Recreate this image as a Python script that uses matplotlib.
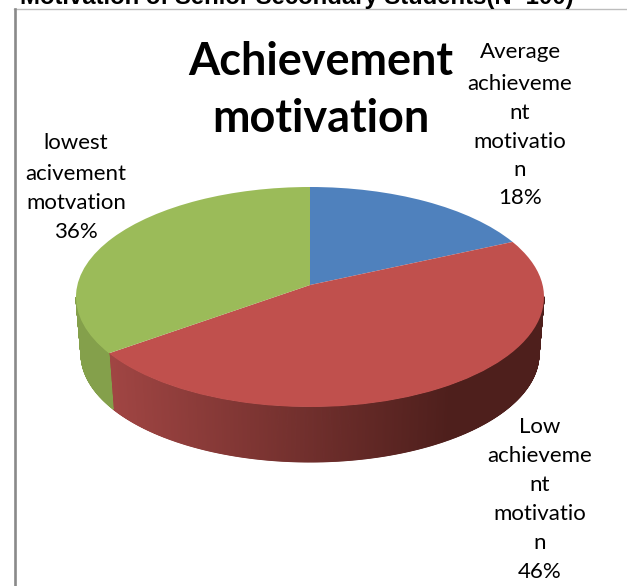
import numpy as np
import matplotlib
matplotlib.use("Agg")
import matplotlib.pyplot as plt
from matplotlib.lines import Line2D
from matplotlib.transforms import Transform

W, H = 627, 586

shares = [18.2, 46.8, 35.0]
colors = ["#4f81bd", "#c0504d", "#9bbb59"]
label_lines = [
    ["Average", "achieveme", "nt", "motivatio", "n", "18%"],
    ["Low", "achieveme", "nt", "motivatio", "n", "46%"],
    ["lowest", "acivement", "motvation", "36%"],
]
heading = "Motivation of Senior Secondary Students(N=100)"
title_lines = ["Achievement", "motivation"]

# pixel layout
cx, cy, rx, ry = 310, 297, 234, 110
tilt = 0.109  # moves the pie apex up, as the 3d perspective does
bottom_rx, bottom_ry, bottom_cy = 229, 108, 354
label_x = [520, 540, 76]
label_y = [
    [52, 84, 113, 142, 170, 198],
    [427, 456, 485, 514, 543, 572],
    [143, 174, 203, 232],
]


def fx(x):
    return x / W


def fy(y):
    return 1 - y / H


def mix(c1, c2, t):
    c1, c2 = matplotlib.colors.to_rgb(c1), matplotlib.colors.to_rgb(c2)
    return tuple(a + (b - a) * t for a, b in zip(c1, c2))


def boost(x, y):
    # projective map that keeps the unit circle but moves its centre
    s = np.sqrt(1 - tilt**2)
    d = 1 + tilt * y
    return x * s / d, (y + tilt) / d


class Perspective(Transform):
    input_dims = output_dims = 2

    def transform_non_affine(self, values):
        x, y = boost(values[:, 0], values[:, 1])
        return np.column_stack([x, y])


fig = plt.figure(figsize=(W / 100, H / 100), dpi=100, facecolor="white")
ax = fig.add_axes([0, 0, 1, 1])

ends = 90 - 360 * np.cumsum(shares) / sum(shares)
starts = np.r_[90, ends[:-1]]

# side wall, only the front half shows
for a0, a1, col in zip(starts, ends, colors):
    vis = np.r_[np.arange(a0, a1, -0.25), a1]
    for t0, t1 in zip(vis[:-1], vis[1:]):
        x0, y0 = boost(np.cos(np.radians(t0)), np.sin(np.radians(t0)))
        x1, y1 = boost(np.cos(np.radians(t1)), np.sin(np.radians(t1)))
        if y0 > 0 and y1 > 0:
            continue
        bx = np.array([x0, x1]) * bottom_rx / rx
        by = (np.array([y0, y1]) * bottom_ry + cy - bottom_cy) / ry
        xm = (x0 + x1) / 2
        if col == "#c0504d":
            t = np.clip((xm + 0.85) / 1.45, 0, 1)
            shade = mix("#a04543", "#4e1f1c", t)
        else:
            shade = "#84a04b"
        ax.fill([x0, x1, bx[1], bx[0]], [y0, y1, by[1], by[0]], color=shade,
                lw=0.7, zorder=1)

wedges, _ = ax.pie(
    shares,
    colors=colors,
    startangle=90,
    counterclock=False,
    radius=1,
    wedgeprops={"lw": 0},
)
for w in wedges:
    w.set_zorder(2)
    w.set_transform(Perspective() + ax.transData)

ax.set_aspect("auto")
ax.set_xlim(-cx / rx, (W - cx) / rx)
ax.set_ylim((cy - H) / ry, cy / ry)
ax.axis("off")

# picture frame of the pasted chart
fig.add_artist(Line2D([fx(14), fx(W)], [fy(9), fy(9)], color="#bdbdbd", lw=1))
fig.add_artist(Line2D([fx(14.5), fx(14.5)], [fy(9), fy(H)], color="#8a8a8a", lw=1.9))

# heading of the page, cut off by the top edge
fig.text(fx(20), fy(4), heading, family="Liberation Sans", fontweight="bold",
         fontsize=17.2, ha="left", va="baseline", color="black")

for line, y in zip(title_lines, [62, 119]):
    fig.text(fx(321), fy(y), line, family="Lato", fontweight="bold",
             fontsize=32.4, ha="center", va="center", color="black")

for lines, x, ys in zip(label_lines, label_x, label_y):
    for line, y in zip(lines, ys):
        fig.text(fx(x), fy(y), line, family="Lato", fontsize=16,
                 ha="center", va="center", color="black")

fig.savefig("out.png", dpi=100)
